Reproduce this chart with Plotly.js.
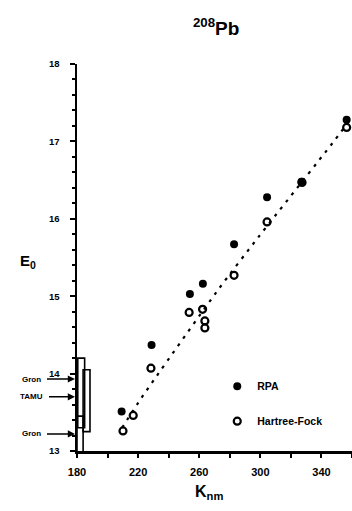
<!DOCTYPE html>
<html>
<head>
<meta charset="utf-8">
<script src="https://cdn.plot.ly/plotly-3.0.1.min.js"></script>
<style>html,body{margin:0;padding:0;background:#fff;}#chart{width:352px;height:511px;}</style>
</head>
<body>
<div id="chart"></div>
<script>
// RPA (filled circles)
var rpaK = [209.2, 228.8, 253.9, 262.4, 282.8, 304.4, 326.9, 356.5];
var rpaE = [13.51, 14.37, 15.03, 15.16, 15.67, 16.28, 16.48, 17.28];
// Hartree-Fock (open circles)
var hfK = [210.1, 216.8, 228.4, 253.4, 262.2, 263.7, 263.7, 282.8, 304.4, 327.3, 356.5];
var hfE = [13.26, 13.46, 14.07, 14.79, 14.83, 14.68, 14.59, 15.27, 15.96, 16.47, 17.18];
// dotted fit curve
var fitK = [209.5, 222.3, 273.0, 299.0, 346.9, 356.5];
var fitE = [13.30, 13.69, 15.10, 15.77, 16.97, 17.22];
// experimental ranges
var expLabels = ['Gron', 'TAMU', 'Gron'];
var expE = [13.93, 13.70, 13.22];
var boxK0 = [180.5, 184, 180];
var boxK1 = [185, 188.5, 184];
var boxE0 = [13.3, 13.25, 12.9];
var boxE1 = [14.2, 14.05, 13.45];
// ticks
var xTickVals = [180, 220, 260, 300, 340];
var yTickVals = [13, 14, 15, 16, 17, 18];

var F = 'Liberation Sans, Arial, sans-serif';

var traces = [
  {x: fitK, y: fitE, mode: 'lines', type: 'scatter', showlegend: false, hoverinfo: 'skip',
   line: {color: '#000', width: 2.2, dash: '3px,6px', shape: 'spline', smoothing: 0.6}},
  {x: rpaK, y: rpaE, mode: 'markers', type: 'scatter', name: 'RPA', legendgroup: 'a', cliponaxis: false,
   marker: {symbol: 'circle', size: 8, color: '#000'}},
  {x: hfK, y: hfE, mode: 'markers', type: 'scatter', name: 'Hartree-Fock', legendgroup: 'b', cliponaxis: false,
   marker: {symbol: 'circle-open', size: 7, color: '#000', line: {width: 2.2, color: '#000'}}}
];

var shapes = boxK0.map(function(k0, i) {
  return {type: 'rect', xref: 'x', yref: 'y', x0: k0, x1: boxK1[i], y0: boxE0[i], y1: boxE1[i],
          line: {color: '#000', width: 1.6}, fillcolor: 'rgba(0,0,0,0)'};
});

var annotations = expLabels.map(function(t, i) {
  return {x: 180, y: expE[i], xref: 'x', yref: 'y', text: t, showarrow: true,
          ax: -46, ay: 0, arrowhead: 2, arrowsize: 0.9, arrowwidth: 1.6, arrowcolor: '#000',
          startstandoff: 5, standoff: 2, font: {family: F, size: 8, color: '#000', weight: 'bold'}};
});
annotations.push({xref: 'paper', yref: 'paper', x: -0.215, y: 0.49, text: 'E<sub>0</sub>', showarrow: false,
  font: {family: F, size: 15, color: '#000', weight: 'bold'}});
annotations.push({xref: 'paper', yref: 'paper', x: 0.48, y: -0.137, text: 'K<sub>nm</sub>', showarrow: false,
  font: {family: F, size: 16, color: '#000', weight: 'bold'}});

var layout = {
  width: 352, height: 511,
  margin: {l: 77, r: 0, t: 64, b: 60},
  paper_bgcolor: '#fff', plot_bgcolor: '#fff',
  title: {text: '<sup>208</sup>Pb', x: 0.614, xref: 'container', y: 0.945, yref: 'container',
          xanchor: 'center', yanchor: 'middle', font: {family: F, size: 19, color: '#000', weight: 'bold'}},
  showlegend: true,
  legend: {x: 0.51, y: 0.205, xanchor: 'left', yanchor: 'top', bgcolor: 'rgba(0,0,0,0)',
           traceorder: 'grouped', tracegroupgap: 16, itemwidth: 30,
           font: {family: F, size: 10.5, color: '#000', weight: 'bold'}},
  xaxis: {range: [180, 360], tickvals: xTickVals, ticks: 'outside', ticklen: 4, tickwidth: 2, tickcolor: '#000',
          showline: true, linecolor: '#000', linewidth: 2.5, showgrid: false, zeroline: false,
          ticklabelstandoff: 5,
          minor: {dtick: 20, tick0: 180, ticks: 'outside', ticklen: 4, tickwidth: 2, tickcolor: '#000', showgrid: false},
          tickfont: {family: F, size: 11, color: '#000', weight: 'bold'}},
  yaxis: {range: [13, 18], tickvals: yTickVals, ticks: 'outside', ticklen: 5, tickwidth: 2, tickcolor: '#000',
          showline: true, linecolor: '#000', linewidth: 2.5, showgrid: false, zeroline: false,
          ticklabelstandoff: 8,
          minor: {dtick: 0.2, tick0: 13, ticks: 'outside', ticklen: 3, tickwidth: 2, tickcolor: '#000', showgrid: false},
          tickfont: {family: F, size: 9.5, color: '#000', weight: 'bold'}},
  shapes: shapes,
  annotations: annotations
};

Plotly.newPlot('chart', traces, layout, {staticPlot: true, displayModeBar: false});
</script>
</body>
</html>
